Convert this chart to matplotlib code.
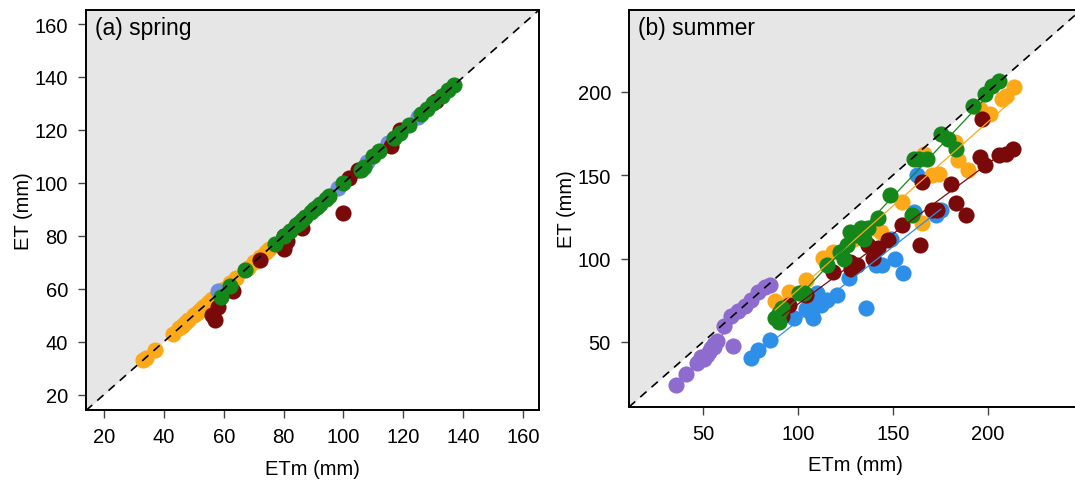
import numpy as np
import matplotlib.pyplot as plt

plt.rcParams['font.family'] = ['Liberation Sans', 'DejaVu Sans']

ORANGE = '#FBA919'
GREEN = '#15861A'
DARKRED = '#7A0A0A'
BLUE = '#2E8FE8'
PURPLE = '#8E6CCF'

# spring: measured vs modelled ET per site group
spring_orange_x = [33, 34, 37, 43, 45, 46, 47, 48, 50, 51, 52, 53, 54, 55, 56, 60, 62, 64, 68, 70, 72, 74, 75]
spring_orange_y = [33, 34, 37, 43, 45, 46, 47, 48, 50, 51, 52, 53, 54, 55, 56, 60, 62, 64, 68, 70, 72, 74, 75]
spring_blue_x = [58, 80, 98, 108, 115, 125]
spring_blue_y = [59, 80, 98, 108, 115, 125]
spring_red_x = [56, 57, 58, 63, 72, 80, 81, 80, 86, 100, 102, 105, 116, 119, 131, 80]
spring_red_y = [50, 48, 53, 59, 71, 75, 78, 76, 83, 88.5, 102, 105, 114, 120, 131, 80]
spring_green_x = [59, 62, 67, 77, 80, 82, 84, 85, 86, 87, 89, 90, 91, 92, 94, 95, 100, 106, 107, 110, 112,
                  117, 119, 122, 126, 128, 130, 133, 135, 137]
spring_green_y = [57, 61, 67, 77, 80, 82, 84, 85, 86, 87, 89, 90, 91, 92, 94, 95, 100, 105, 106, 110, 112,
                  117, 119, 122, 126, 128, 130, 133, 135, 137]

# summer
summer_purple_x = [36, 41, 46.8, 50.4, 52, 54, 57.5, 55.5, 49, 53, 56, 65.6, 61, 64.7, 68.3, 71.9, 75.5, 79, 82.7, 85.4]
summer_purple_y = [24.1, 30.5, 37.5, 39.5, 42.4, 46.4, 50.4, 48.5, 41, 44, 47, 47.4, 59.3, 65.3, 68.3, 71.3, 75.3,
                   80.2, 83.2, 84.2]
summer_blue_x = [75.5, 79, 85.4, 98, 107, 106, 110, 115, 120.4, 126.7, 135.7, 141, 144, 151, 155.5, 149,
                 160.9, 162.6, 172.5, 175.2, 104, 108, 112]
summer_blue_y = [40.5, 45.4, 51.4, 64.3, 67.3, 73.3, 79.2, 75.3, 78.2, 88.2, 70.3, 96.1, 96.1, 100, 91.2, 112,
                 128, 149.9, 126, 129, 70, 64.3, 72]
summer_green_x = [88, 89.9, 91.7, 100.7, 103.4, 115, 122.2, 125.8, 127.6, 133, 136.6, 134.8, 142, 148.3, 160,
                  160.9, 163.6, 168, 175.2, 178.8, 183.3, 192.3, 198.6, 202.2, 205.8, 124, 130, 90]
summer_green_y = [64.3, 67.3, 70.3, 79.2, 79.2, 96.1, 104.1, 108.1, 116, 118, 118, 112, 124, 137.9, 126,
                  159.8, 159.8, 159.8, 174.7, 171.7, 165.8, 191.6, 198.6, 203.6, 206.6, 100, 114, 62]
summer_orange_x = [88, 95.3, 104.3, 113.2, 118.6, 129.4, 143.8, 154.6, 165.3, 166.2, 170.7, 174.3, 182.4,
                   184.2, 189.6, 195.9, 201.3, 207.6, 213.9, 209.4, 93, 140]
summer_orange_y = [74.3, 80.2, 87.2, 100.1, 104.1, 112, 116, 134, 121, 162.8, 149.9, 150.9, 169.8, 158.8,
                   152.9, 189.6, 186.7, 195.6, 202.6, 197.6, 72, 118]
summer_red_x = [95.3, 91.7, 104.3, 118.6, 127.6, 131.2, 139.3, 142, 147.4, 154.6, 164.4, 165.3, 170.7, 173.4,
                180.6, 183.3, 188.7, 196.8, 195.9, 198.6, 205.8, 209.4, 213, 136.6, 128]
summer_red_y = [72.3, 65.3, 78.2, 92.2, 98.1, 96.1, 100.1, 106.1, 111.1, 120, 108.1, 145.9, 129, 129,
                144.9, 133, 126, 183.7, 160.8, 155.8, 161.8, 162.8, 165.8, 108, 94]

fig = plt.figure(figsize=(10.75, 4.81), dpi=100)
ax1 = fig.add_axes([0.080, 0.1445, 0.4214, 0.8326])
ax2 = fig.add_axes([0.5851, 0.1518, 0.4205, 0.8254])


def setup(ax, lo, hi, ticks, title):
    ax.set_xlim(lo, hi)
    ax.set_ylim(lo, hi)
    ax.fill_between([lo, hi], [lo, hi], [hi, hi], color='#e6e6e6', lw=0, zorder=0)
    ax.plot([lo, hi], [lo, hi], ls=(0, (5, 4)), color='black', lw=1.2, zorder=5)
    ax.set_xticks(ticks)
    ax.set_yticks(ticks)
    ax.tick_params(direction='out', length=6, width=1, color='#444444', labelsize=14.5)
    ax.tick_params(axis='y', pad=7)
    ax.tick_params(axis='x', pad=6)
    for s in ax.spines.values():
        s.set_linewidth(1.4)
    ax.set_xlabel('ETm (mm)', fontsize=14.5, labelpad=9)
    ax.set_ylabel('ET (mm)', fontsize=14.5, labelpad=1)
    ax.text(0.02, 0.985, title, transform=ax.transAxes, fontsize=16.5, va='top', ha='left', zorder=6)


setup(ax1, 14, 165.3, [20, 40, 60, 80, 100, 120, 140, 160], '(a) spring')
setup(ax2, 11, 249, [50, 100, 150, 200], '(b) summer')

ms = 135
ax1.scatter(spring_orange_x, spring_orange_y, s=ms, color=ORANGE, lw=0, zorder=3)
ax1.scatter(spring_blue_x, spring_blue_y, s=ms, color='#6f8fdc', lw=0, zorder=3)
ax1.scatter(spring_red_x, spring_red_y, s=ms, color=DARKRED, lw=0, zorder=3)
ax1.scatter(spring_green_x, spring_green_y, s=ms, color=GREEN, lw=0, zorder=4)

summer = [
    (summer_purple_x, summer_purple_y, PURPLE),
    (summer_blue_x, summer_blue_y, BLUE),
    (summer_orange_x, summer_orange_y, ORANGE),
    (summer_red_x, summer_red_y, DARKRED),
    (summer_green_x, summer_green_y, GREEN),
]
for xs, ys, c in summer:
    ax2.scatter(xs, ys, s=ms, color=c, lw=0, zorder=3)
# least-squares line per group over its own ETm range
for xs, ys, c in summer:
    xs = np.asarray(xs)
    slope, icpt = np.polyfit(xs, ys, 1)
    xl = np.array([xs.min(), xs.max()])
    ax2.plot(xl, slope * xl + icpt, color=c, lw=0.9, zorder=4)

fig.savefig('out.png', dpi=100)
